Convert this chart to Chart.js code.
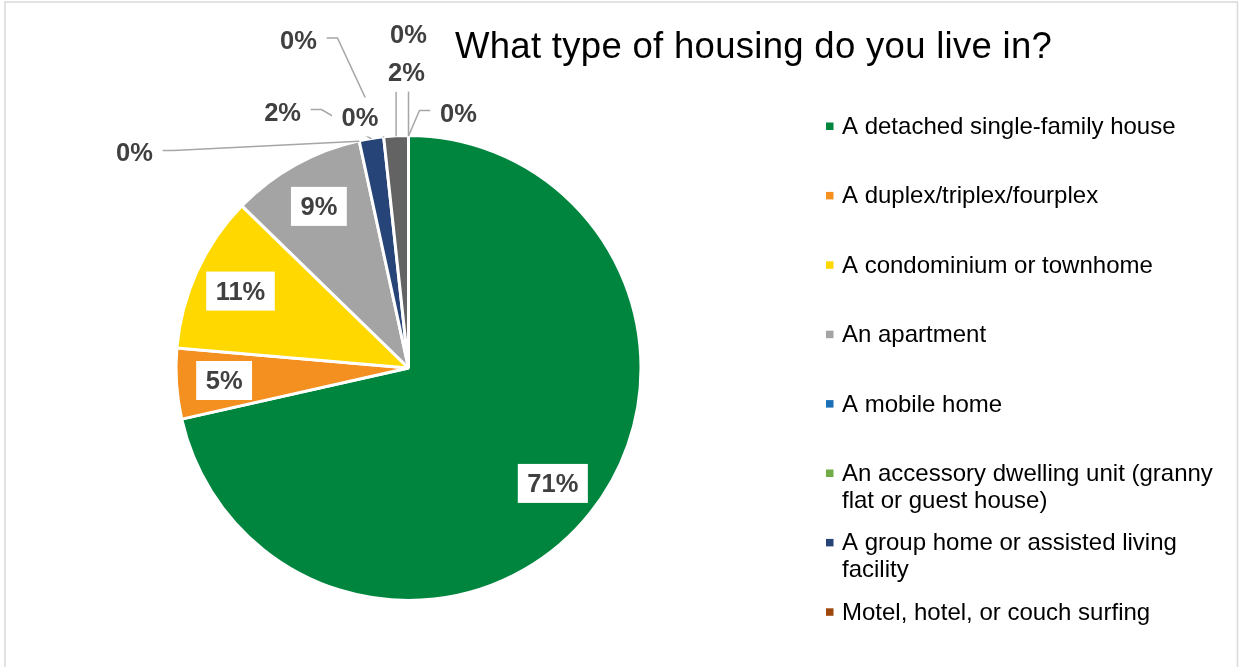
<!DOCTYPE html>
<html>
<head>
<meta charset="utf-8">
<script src="https://cdn.jsdelivr.net/npm/chart.js@4.4.0/dist/chart.umd.min.js"></script>
<style>
  html, body { margin: 0; padding: 0; background: #fff; }
  #contenedor { position: relative; width: 1239px; height: 667px; }
</style>
</head>
<body>
<div id="contenedor"><canvas id="grafico-vivienda"></canvas></div>
<script>
// Datos (porcentajes aproximados)
const titulo = 'What type of housing do you live in?';

const categorias = [
    'A detached single-family house',
    'A duplex/triplex/fourplex',
    'A condominium or townhome',
    'An apartment',
    'A mobile home',
    'An accessory dwelling unit (granny flat or guest house)',
    'A group home or assisted living facility',
    'Motel, hotel, or couch surfing',
    'Other',
    'Homeless / unsheltered',
    'Prefer not to answer'
];

const porcentajes = [71.4, 4.9, 10.9, 9.3, 0, 0, 1.7, 0, 1.7, 0, 0];

const colores = [
    '#00853E', '#F39020', '#FFD800', '#A4A4A5', '#1A6FB5', '#70AD47',
    '#264478', '#9E480E', '#636363', '#997300', '#255E91'
];

// Posición de etiquetas externas (en radios desde el centro); null = dentro del sector
const posEtiquetas = [
    null, null, null, null,
    [-1.186, -0.933], [-0.210, -1.087], [-0.545, -1.110], [-0.476, -1.420],
    [-0.009, -1.281], [0, -1.444], [0.216, -1.106]
];

const grosorBorde = 3;
const altoCaja = 39;

function partirTexto(ctx, texto, maxAncho) {
    const palabras = texto.split(' ');
    const lineas = [];
    let actual = '';
    palabras.forEach(p => {
        const prueba = actual ? actual + ' ' + p : p;
        if (ctx.measureText(prueba).width > maxAncho && actual) {
            lineas.push(actual);
            actual = p;
        } else {
            actual = prueba;
        }
    });
    if (actual) lineas.push(actual);
    return lineas;
}

// Marco gris claro alrededor del gráfico
const marcoPlugin = {
    id: 'marco',
    beforeDraw(chart) {
        const ctx = chart.ctx;
        ctx.save();
        ctx.fillStyle = '#FFFFFF';
        ctx.fillRect(0, 0, chart.width, chart.height);
        ctx.strokeStyle = '#D9D9D9';
        ctx.lineWidth = 1.5;
        ctx.strokeRect(5, 2, 1232.5, 720);
        ctx.restore();
    }
};

// Etiquetas de porcentaje (con líneas guía para los sectores pequeños)
const etiquetasPlugin = {
    id: 'etiquetas',
    afterDatasetsDraw(chart) {
        const ctx = chart.ctx;
        const arcos = chart.getDatasetMeta(0).data;
        const total = porcentajes.reduce((a, b) => a + b, 0);
        ctx.save();
        ctx.font = 'bold 25.5px "Liberation Sans", Arial, sans-serif';

        const etiquetas = arcos.map((arco, i) => {
            const p = arco.getProps(['x', 'y', 'startAngle', 'endAngle', 'outerRadius'], true);
            const r = p.outerRadius - grosorBorde / 2;
            const medio = (p.startAngle + p.endAngle) / 2;
            const texto = Math.round(porcentajes[i] / total * 100) + '%';
            const hw = (ctx.measureText(texto).width + 19) / 2;
            const pos = posEtiquetas[i];
            let cx, cy;
            if (pos) {
                cx = p.x + pos[0] * r;
                cy = p.y + pos[1] * r;
            } else {
                cx = p.x + Math.cos(medio) * r * 0.8;
                cy = p.y + Math.sin(medio) * r * 0.8;
            }
            return {
                texto, cx, cy, hw, fuera: !!pos,
                ax: p.x + Math.cos(medio) * (r + 1),
                ay: p.y + Math.sin(medio) * (r + 1)
            };
        });

        // 1. líneas guía
        ctx.strokeStyle = '#A6A6A6';
        ctx.lineWidth = 1.5;
        etiquetas.filter(e => e.fuera).forEach(e => {
            if (Math.abs(e.ax - e.cx) < e.hw) {
                const fondo = e.cy + altoCaja / 2;
                if (e.ay - fondo < 10) return;
                ctx.beginPath();
                ctx.moveTo(e.ax, e.ay);
                ctx.lineTo(e.ax, fondo);
                ctx.stroke();
            } else {
                const lado = e.ax < e.cx ? -1 : 1;
                const bx = e.cx + lado * e.hw;
                ctx.beginPath();
                ctx.moveTo(e.ax, e.ay);
                ctx.lineTo(bx + lado * 11, e.cy - 2);
                ctx.lineTo(bx, e.cy - 2);
                ctx.stroke();
            }
        });

        // 2. cajas blancas y texto
        ctx.textAlign = 'center';
        ctx.textBaseline = 'alphabetic';
        etiquetas.forEach(e => {
            ctx.fillStyle = '#FFFFFF';
            ctx.fillRect(e.cx - e.hw, e.cy - altoCaja / 2, e.hw * 2, altoCaja);
            ctx.fillStyle = '#404040';
            ctx.fillText(e.texto, e.cx, e.cy + 9);
        });
        ctx.restore();
    }
};

// Título y leyenda dibujados a mano
const leyendaPlugin = {
    id: 'leyenda',
    afterDraw(chart) {
        const ctx = chart.ctx;
        ctx.save();
        ctx.textAlign = 'left';
        ctx.textBaseline = 'alphabetic';

        ctx.font = '36.5px "Liberation Sans", Arial, sans-serif';
        ctx.letterSpacing = '0.3px';
        ctx.fillStyle = '#000000';
        ctx.fillText(titulo, 455, 58);
        ctx.letterSpacing = '0px';

        ctx.font = '24px "Liberation Sans", Arial, sans-serif';
        categorias.forEach((nombre, i) => {
            const base = 134 + i * 69.4;
            ctx.fillStyle = colores[i];
            ctx.fillRect(826, base - 11.5, 7.5, 7.5);
            ctx.fillStyle = '#000000';
            partirTexto(ctx, nombre, 378).forEach((linea, j) => {
                ctx.fillText(linea, 842, base + j * 26.5);
            });
        });
        ctx.restore();
    }
};

const canvas = document.getElementById('grafico-vivienda');

new Chart(canvas, {
    type: 'pie',
    data: {
        labels: categorias,
        datasets: [{
            data: porcentajes,
            backgroundColor: colores,
            borderColor: '#FFFFFF',
            borderWidth: grosorBorde,
            hoverBorderWidth: grosorBorde,
            hoverOffset: 0
        }]
    },
    options: {
        responsive: true,
        maintainAspectRatio: false,
        animation: false,
        events: [],
        layout: { padding: { left: 174.5, right: 596.5, top: 134, bottom: 65 } },
        plugins: {
            legend: { display: false },
            title: { display: false },
            tooltip: { enabled: false }
        }
    },
    plugins: [marcoPlugin, etiquetasPlugin, leyendaPlugin]
});
</script>
</body>
</html>
